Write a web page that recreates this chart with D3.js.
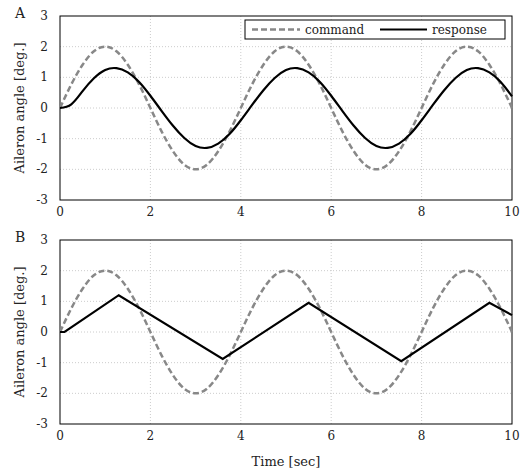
<!DOCTYPE html>
<html><head><meta charset="utf-8">
<script src="https://cdn.jsdelivr.net/npm/d3@7"></script>
<style>body{margin:0;background:#fff}text{font-family:"DejaVu Serif",serif;fill:#222}</style>
</head><body><svg id="chart" width="531" height="473"></svg>
<script>
const timeA = d3.range(41).map(i => i * 0.25);
const commandVals = [0,0.77,1.41,1.85,2,1.85,1.41,0.77,0,-0.77,-1.41,-1.85,-2,-1.85,-1.41,-0.77,
  0,0.77,1.41,1.85,2,1.85,1.41,0.77,0,-0.77,-1.41,-1.85,-2,-1.85,-1.41,-0.77,
  0,0.77,1.41,1.85,2,1.85,1.41,0.77,0];
const responseA = [0,0.12,0.55,0.97,1.24,1.3,1.16,0.85,0.4,-0.1,-0.58,-0.98,-1.24,-1.3,-1.16,-0.85,
  -0.4,0.1,0.58,0.98,1.24,1.3,1.16,0.85,0.4,-0.1,-0.58,-0.98,-1.24,-1.3,-1.16,-0.85,
  -0.4,0.1,0.58,0.98,1.24,1.3,1.16,0.85,0.38];
const timeB = [0,0.1,1.3,3.6,5.5,7.55,9.5,10];
const responseB = [0,0,1.2,-0.88,0.95,-0.95,0.95,0.55];
const xTicks = [0,2,4,6,8,10];
const yTicks = [-3,-2,-1,0,1,2,3];

const svg = d3.select("#chart");
const left = 60, right = 512;
const x = d3.scaleLinear().domain([0,10]).range([left,right]);

function panel(top, bottom, label, respT, respV, curve, legend) {
  const y = d3.scaleLinear().domain([-3,3]).range([bottom, top]);
  const g = svg.append("g");
  g.selectAll(".gx").data(xTicks.slice(1,-1)).enter().append("line")
    .attr("x1", d=>x(d)).attr("x2", d=>x(d)).attr("y1", top).attr("y2", bottom)
    .attr("stroke", "#ccc").attr("stroke-dasharray", "1,2");
  g.selectAll(".gy").data(yTicks.slice(1,-1)).enter().append("line")
    .attr("x1", left).attr("x2", right).attr("y1", d=>y(d)).attr("y2", d=>y(d))
    .attr("stroke", "#ccc").attr("stroke-dasharray", "1,2");
  g.append("rect").attr("x", left).attr("y", top).attr("width", right-left).attr("height", bottom-top)
    .attr("fill", "none").attr("stroke", "#000").attr("stroke-width", 1);
  g.selectAll(".ty").data(yTicks).enter().append("text")
    .attr("x", left-12).attr("y", d=>y(d)+4).attr("text-anchor","end").attr("font-size", 12).text(d=>d);
  g.selectAll(".tx").data(xTicks).enter().append("text")
    .attr("x", d=>x(d)).attr("y", bottom+16).attr("text-anchor","middle").attr("font-size", 12).text(d=>d);
  g.append("text").attr("x", 15).attr("y", top+2).attr("font-size", 14).text(label);
  g.append("text").attr("transform", `translate(24,${(top+bottom)/2}) rotate(-90)`)
    .attr("text-anchor","middle").attr("font-size", 13).text("Aileron angle [deg.]");
  const line = d3.line().x(d=>x(d[0])).y(d=>y(d[1]));
  g.append("path").datum(timeA.map((t,i)=>[t,commandVals[i]]))
    .attr("d", line.curve(d3.curveNatural)).attr("fill","none")
    .attr("stroke","#888").attr("stroke-width",2.5).attr("stroke-dasharray","6,3");
  g.append("path").datum(respT.map((t,i)=>[t,respV[i]]))
    .attr("d", d3.line().x(d=>x(d[0])).y(d=>y(d[1])).curve(curve)).attr("fill","none")
    .attr("stroke","#000").attr("stroke-width",2.2);
  if (legend) {
    const lg = g.append("g");
    lg.append("rect").attr("x",245).attr("y",top+4).attr("width",260).attr("height",19)
      .attr("fill","#fff").attr("stroke","#000");
    lg.append("line").attr("x1",252).attr("x2",300).attr("y1",top+13.5).attr("y2",top+13.5)
      .attr("stroke","#888").attr("stroke-width",2.5).attr("stroke-dasharray","6,3");
    lg.append("text").attr("x",305).attr("y",top+18).attr("font-size",12).text("command");
    lg.append("line").attr("x1",380).attr("x2",427).attr("y1",top+13.5).attr("y2",top+13.5)
      .attr("stroke","#000").attr("stroke-width",2.2);
    lg.append("text").attr("x",432).attr("y",top+18).attr("font-size",12).text("response");
  }
}
panel(16, 200, "A", timeA, responseA, d3.curveNatural, true);
panel(240, 424, "B", timeB, responseB, d3.curveLinear, false);
svg.append("text").attr("x", (left+right)/2).attr("y", 466).attr("text-anchor","middle")
  .attr("font-size", 13).text("Time [sec]");
</script></body></html>
